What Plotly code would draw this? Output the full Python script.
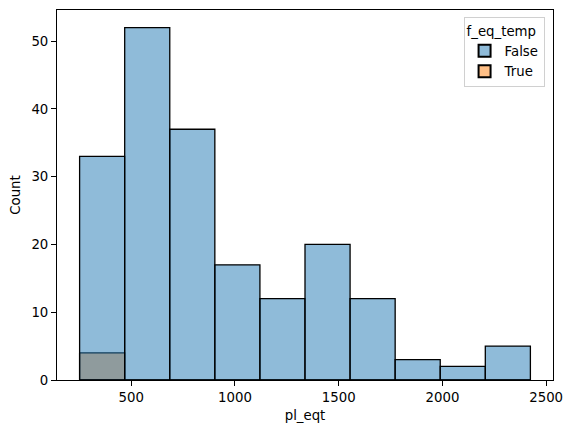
import plotly.graph_objects as go

bin_edges = [251.0, 468.3, 685.6, 902.9, 1120.2, 1337.5, 1554.8, 1772.1, 1989.4, 2206.7, 2424.0]
counts_false = [33, 52, 37, 17, 12, 20, 12, 3, 2, 5]
counts_true = [4, 0, 0, 0, 0, 0, 0, 0, 0, 0]
hue_title = "f_eq_temp"
x_label = "pl_eqt"
y_label = "Count"

centers = [(a + b) / 2 for a, b in zip(bin_edges[:-1], bin_edges[1:])]
widths = [b - a for a, b in zip(bin_edges[:-1], bin_edges[1:])]

fig = go.Figure()
fig.add_trace(go.Bar(
    x=centers, y=counts_true, width=widths, name="True",
    marker=dict(color="rgba(255,127,14,0.5)", line=dict(color="black", width=1.3)),
    legendrank=2,
))
fig.add_trace(go.Bar(
    x=centers, y=counts_false, width=widths, name="False",
    marker=dict(color="rgba(31,119,180,0.5)", line=dict(color="black", width=1.3)),
    legendrank=1,
))

font = dict(family="DejaVu Sans", size=13.3, color="black")
fig.update_layout(
    width=572, height=433,
    margin=dict(l=49, r=27, t=2, b=61),
    barmode="overlay",
    plot_bgcolor="white", paper_bgcolor="white",
    font=font,
    showlegend=True,
    legend=dict(
        title=dict(text=hue_title, font=font, side="top"),
        x=0.983, xanchor="right", y=0.98, yanchor="top",
        bgcolor="rgba(255,255,255,0.8)", bordercolor="#d0d0d0", borderwidth=1,
        font=font, itemsizing="constant", tracegroupgap=0,
    ),
    xaxis=dict(
        range=[142, 2533], tickvals=[500, 1000, 1500, 2000, 2500],
        showgrid=False, zeroline=False, showline=True, linecolor="black", linewidth=1,
        mirror=True, ticks="outside", ticklen=5, tickcolor="black", automargin=False,
        title=dict(text=x_label, font=font, standoff=6),
    ),
    yaxis=dict(
        range=[0, 54.6], tickvals=[0, 10, 20, 30, 40, 50],
        showgrid=False, zeroline=False, showline=True, linecolor="black", linewidth=1,
        mirror=True, ticks="outside", ticklen=5, tickcolor="black", automargin=False,
        title=dict(text=y_label, font=font, standoff=8),
    ),
)

fig.write_html("out.html")
